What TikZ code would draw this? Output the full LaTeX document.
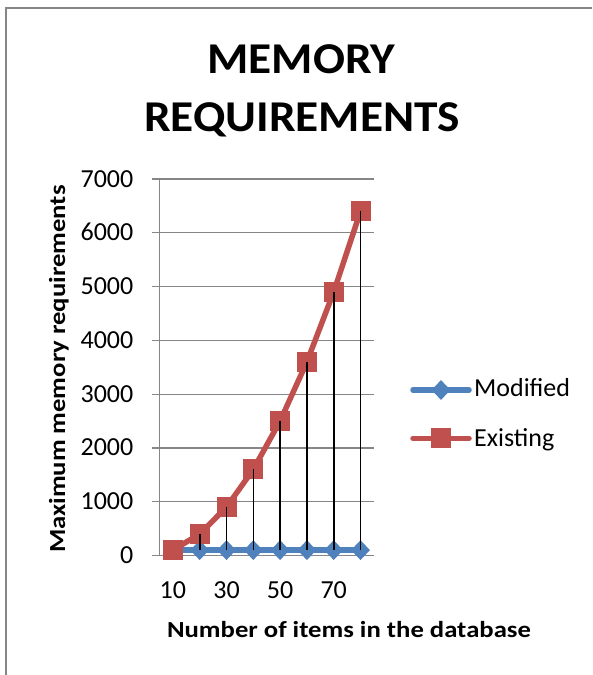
\documentclass[tikz,border=0pt]{standalone}
\usepackage{fontspec}
\setmainfont{Carlito}
\newfontfamily\headfont[FakeStretch=1.075]{Carlito}
\newfontfamily\axisfont[FakeStretch=1.16]{Carlito}
\usetikzlibrary{shapes.geometric}
\definecolor{exred}{RGB}{192,80,77}
\definecolor{modblue}{RGB}{79,129,189}
\definecolor{gridgray}{RGB}{134,134,134}

\begin{document}
\begin{tikzpicture}[x=1pt,y=-1pt,
  gridline/.style={gridgray, line width=1.3pt},
  modline/.style={modblue, line width=5.5pt, line join=round},
  exline/.style={exred, line width=5.5pt, line join=round},
  modmark/.style={diamond, fill=modblue, inner sep=0pt, minimum width=19pt, minimum height=20pt},
  exmark/.style={rectangle, fill=exred, inner sep=0pt, minimum size=20pt},
  droplinestyle/.style={black, line width=1.6pt},
  ticklabel/.style={font=\fontsize{26}{30}\selectfont, inner sep=0pt},
  axistitle/.style={font=\axisfont\fontsize{23}{28}\selectfont\bfseries, inner sep=0pt},
  titletext/.style={font=\headfont\fontsize{44}{50}\selectfont\bfseries, inner sep=0pt}
]
\useasboundingbox (0,0) rectangle (592,675);
\fill[white] (0,0) rectangle (592,675);

% chart frame
\draw[gridgray, line width=2pt] (6,675) -- (6,8) -- (592,8);

% title
\node[titletext, anchor=base] (t1) at (301.5,73) {MEMORY};
\node[titletext, anchor=base] (t2) at (302,131) {REQUIREMENTS};

% horizontal gridlines, value axis and its labels
\foreach \v in {0,...,7} {
  \pgfmathsetmacro\gy{555.5-\v*53.78}
  \pgfmathtruncatemacro\lab{\v*1000}
  \draw[gridline] (151.5,\gy) -- (374,\gy);
  \node[ticklabel, anchor=base east] (yl\v) at (133.5,\gy+8) {\lab};
}
\draw[gridline] (159.5,555.5) -- (159.5,179);

% data points
\foreach \val [count=\i from 0] in {100,400,900,1600,2500,3600,4900,6400} {
  \pgfmathsetmacro\px{159.5+26.8*(\i+0.5)}
  \coordinate (e\i) at (\px,{555.5-\val*0.05378});
  \coordinate (m\i) at (\px,{555.5-100*0.05378});
}

% Modified series
\draw[modline] (m0) \foreach \i in {1,...,7} { -- (m\i) };
\foreach \i in {0,...,7} { \node[modmark] (M\i) at (m\i) {}; }

% Existing series
\draw[exline] (e0) \foreach \i in {1,...,7} { -- (e\i) };
\foreach \i in {0,...,7} { \node[exmark] (E\i) at (e\i) {}; }

% high-low lines between the two series
\foreach \i in {1,...,7} { \draw[droplinestyle] (E\i.center) -- (M\i.center); }

% category labels
\foreach \lab/\i in {10/0,30/2,50/4,70/6} {
  \pgfmathsetmacro\px{159.5+26.8*(\i+0.5)}
  \node[ticklabel, anchor=base] (cat\i) at (\px,598) {\lab};
}

% axis titles
\node[axistitle, anchor=base] (xtitle) at (349,637) {Number of items in the database};
\node[axistitle, anchor=base, rotate=90] (ytitle) at (65,369) {Maximum memory requirements};

% legend
\coordinate (lm1) at (413,390); \coordinate (lm2) at (469,390);
\coordinate (le1) at (413,438.3); \coordinate (le2) at (469,438.3);
\draw[modline, line cap=round] (lm1) -- (lm2);
\node[modmark] (lmk) at (441,390) {};
\node[ticklabel, anchor=base west] (lmt) at (474,396.7) {Modified};
\draw[exline, line cap=round] (le1) -- (le2);
\node[exmark] (lek) at (441,438.3) {};
\node[ticklabel, anchor=base west] (let) at (474,446) {Existing};
\end{tikzpicture}
\end{document}
